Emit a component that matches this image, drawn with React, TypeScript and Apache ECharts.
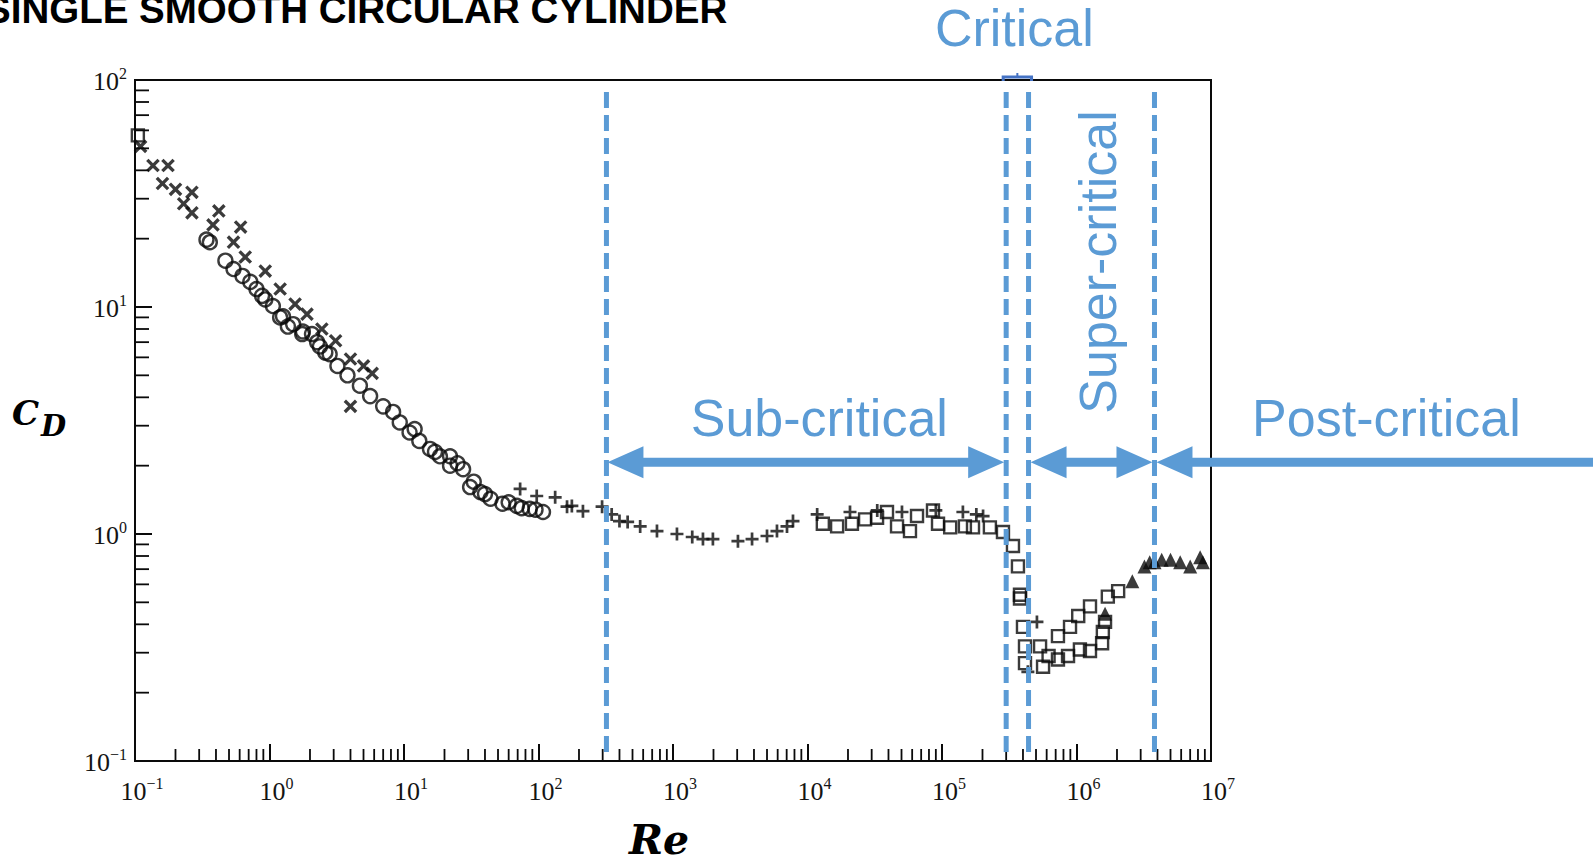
import React, { useEffect, useRef } from 'react';
import * as echarts from 'echarts';

// Drag coefficient of a single smooth circular cylinder versus Reynolds number.
// Each array holds [Re, C_D] pairs for one marker family of the compiled data.
const crossPts: number[][] = [
  [0.11, 51], [0.136, 42], [0.176, 42], [0.16, 35], [0.2, 33], [0.265, 32], [0.23, 28.5],
  [0.265, 26], [0.42, 26.5], [0.38, 23], [0.61, 22.5], [0.54, 19.3], [0.66, 16.6],
  [0.93, 14.4], [1.2, 12], [1.55, 10.3], [1.9, 9.3], [2.45, 8], [3.1, 7.1], [4, 5.9],
  [5, 5.5], [5.8, 5.1], [4, 3.65],
];

const circlePts: number[][] = [
  [0.36, 19.3], [0.34, 19.8], [0.47, 16], [0.54, 14.7], [0.63, 13.7], [0.72, 12.9],
  [0.8, 12], [0.88, 11.2], [0.93, 10.8], [1.06, 10.1], [1.2, 9], [1.26, 9.1], [1.37, 8.2],
  [1.5, 8.4], [1.75, 7.6], [1.77, 7.8], [2.07, 7.6], [2.26, 7], [2.37, 6.7], [2.6, 6.3],
  [2.8, 6.2], [3.2, 5.5], [3.8, 5], [4.7, 4.5], [5.6, 4.05], [7, 3.65], [8.3, 3.45],
  [9.3, 3.1], [11, 2.8], [12, 2.9], [13, 2.57], [15.6, 2.37], [17, 2.3], [18.5, 2.2],
  [22, 2.2], [22, 2.0], [25, 2.05], [27.5, 1.93], [31, 1.61], [33, 1.7], [37, 1.53],
  [40, 1.5], [44, 1.43], [54, 1.36], [60, 1.38], [69, 1.33], [75, 1.3], [86, 1.29],
  [95, 1.28], [108, 1.25],
];

const plusPts: number[][] = [
  [73, 1.58], [97, 1.47], [133, 1.45], [163, 1.32], [177, 1.33], [214, 1.26], [297, 1.32],
  [350, 1.22], [400, 1.14], [460, 1.13], [570, 1.08], [760, 1.03], [1070, 1.0], [1390, 0.97],
  [1670, 0.95], [1980, 0.95], [3040, 0.93], [3870, 0.95], [5000, 0.98], [5930, 1.03],
  [7040, 1.08], [7800, 1.14], [11800, 1.22], [20700, 1.25], [33000, 1.27], [50400, 1.25],
  [90000, 1.27], [143000, 1.25], [180000, 1.22], [202000, 1.2], [435000, 0.247], [508000, 0.41],
];

const squarePts: number[][] = [
  [0.105, 57], [13000, 1.11], [16600, 1.08], [21400, 1.11], [26800, 1.16], [32900, 1.18],
  [39000, 1.25], [46300, 1.08], [57800, 1.03], [65200, 1.2], [85700, 1.27], [93400, 1.11],
  [115000, 1.07], [148000, 1.08], [170000, 1.07], [227000, 1.07], [284000, 1.02],
  [337000, 0.885], [367000, 0.72], [380000, 0.52], [380000, 0.54], [400000, 0.39],
  [414000, 0.32], [414000, 0.27], [536000, 0.32], [564000, 0.26], [620000, 0.29],
  [728000, 0.28], [728000, 0.355], [865000, 0.29], [895000, 0.39], [1030000, 0.435],
  [1060000, 0.31], [1260000, 0.48], [1260000, 0.305], [1550000, 0.33], [1570000, 0.37],
  [1630000, 0.41], [1710000, 0.53], [2040000, 0.56],
];

const trianglePts: number[][] = [
  [1630000, 0.445], [2600000, 0.62], [3200000, 0.72], [3500000, 0.75], [3800000, 0.75],
  [4300000, 0.77], [5000000, 0.77], [5900000, 0.75], [7000000, 0.72], [8300000, 0.79],
  [8700000, 0.75],
];

// Regime boundaries in Re: sub-critical start, critical band, post-critical start
const regimeBoundaries = [320, 3.0e5, 4.4e5, 3.8e6];
const regimeLabels = ['Sub-critical', 'Critical', 'Super-critical', 'Post-critical'];
const arrowCD = 2.07;
const dashTopCD = 88.5;

// Axis ranges and log-decade minor ticks
const xRange = [0.1, 1e7];
const yRange = [0.1, 100];
const minorMultipliers = [2, 3, 4, 5, 6, 7, 8, 9];
const xDecades = [0.1, 1, 10, 100, 1e3, 1e4, 1e5, 1e6];
const yDecades = [0.1, 1, 10];

const BLUE = '#5B9BD5';
const INK = '#0a0a0a';

const PLUS_PATH = 'path://M-1.25,-6H1.25V-1.25H6V1.25H1.25V6H-1.25V1.25H-6V-1.25H-1.25Z';

const xMinorTicks = xDecades.flatMap((d) => minorMultipliers.map((m) => [m * d, yRange[0]]));
const yMinorTicks = yDecades.flatMap((d) => minorMultipliers.map((m) => [xRange[0], m * d]));

const powerLabel = (v: number) => {
  const e = Math.round(Math.log10(v));
  return `{b|10}{s|${e < 0 ? '\u2212' + -e : e}}`;
};

const labelRich = {
  b: { fontFamily: 'Liberation Serif', fontSize: 26, color: '#141414', lineHeight: 32 },
  s: { fontFamily: 'Liberation Serif', fontSize: 16, color: '#141414', lineHeight: 17, verticalAlign: 'top' },
};

const axisCommon = {
  type: 'log',
  logBase: 10,
  axisLine: { show: true, onZero: false, lineStyle: { color: INK, width: 2 } },
  axisTick: { show: true, inside: true, length: 17, lineStyle: { color: INK, width: 2 } },
  splitLine: { show: false },
  minorTick: { show: false },
};

function buildOption() {
  const scatterBase = { type: 'scatter', silent: true, z: 3 };
  const hollow = { color: 'rgba(0,0,0,0)', borderColor: INK, borderWidth: 2.4 };
  return {
    animation: false,
    backgroundColor: '#ffffff',
    grid: {
      left: 135, top: 80, width: 1076, height: 681,
      show: true, borderColor: INK, borderWidth: 2,
      containLabel: false, outerBoundsMode: 'none',
    },
    xAxis: {
      ...axisCommon,
      min: xRange[0], max: xRange[1], splitNumber: 8,
      axisLabel: {
        formatter: powerLabel, rich: labelRich, margin: 14, padding: [0, 0, 0, 14],
        showMinLabel: true, showMaxLabel: true,
      },
    },
    yAxis: {
      ...axisCommon,
      min: yRange[0], max: yRange[1], splitNumber: 3,
      axisLabel: {
        formatter: powerLabel, rich: labelRich, margin: 8, padding: [3, 0, 0, 0],
        showMinLabel: true, showMaxLabel: true,
      },
    },
    series: [
      { ...scatterBase, name: 'cross', data: crossPts, symbol: PLUS_PATH, symbolRotate: 45, symbolSize: 16, itemStyle: { color: INK } },
      { ...scatterBase, name: 'circle', data: circlePts, symbol: 'circle', symbolSize: 14, itemStyle: hollow },
      { ...scatterBase, name: 'plus', data: plusPts, symbol: PLUS_PATH, symbolSize: 13, itemStyle: { color: INK } },
      { ...scatterBase, name: 'square', data: squarePts, symbol: 'rect', symbolSize: 12, itemStyle: hollow },
      { ...scatterBase, name: 'triangle', data: trianglePts, symbol: 'triangle', symbolSize: 14, itemStyle: { color: INK } },
      {
        type: 'custom', name: 'xMinor', data: xMinorTicks, clip: false, silent: true, z: 4,
        renderItem: (_p: any, api: any) => {
          const p = api.coord([api.value(0), api.value(1)]);
          return { type: 'line', shape: { x1: p[0], y1: p[1], x2: p[0], y2: p[1] - 12 }, style: { stroke: INK, lineWidth: 1.8 } };
        },
      },
      {
        type: 'custom', name: 'yMinor', data: yMinorTicks, clip: false, silent: true, z: 4,
        renderItem: (_p: any, api: any) => {
          const p = api.coord([api.value(0), api.value(1)]);
          return { type: 'line', shape: { x1: p[0], y1: p[1], x2: p[0] + 14, y2: p[1] }, style: { stroke: INK, lineWidth: 1.8 } };
        },
      },
      {
        type: 'custom', name: 'boundaries', data: regimeBoundaries.map((re) => [re, dashTopCD]), clip: false, silent: true, z: 6,
        renderItem: (_p: any, api: any) => {
          const top = api.coord([api.value(0), api.value(1)]);
          const bot = api.coord([api.value(0), yRange[0]]);
          return {
            type: 'line',
            shape: { x1: top[0], y1: top[1], x2: bot[0], y2: bot[1] - 3 },
            style: { stroke: BLUE, lineWidth: 5, lineDash: [16, 7] },
          };
        },
      },
    ],
  };
}

function arrowPoints(xL: number, xR: number, y: number, headL: boolean, headR: boolean) {
  const HL = 36, HW = 16, T = 4.5;
  const pts: number[][] = [];
  if (headL) pts.push([xL, y], [xL + HL, y - HW], [xL + HL, y - T]);
  else pts.push([xL, y - T]);
  if (headR) pts.push([xR - HL, y - T], [xR - HL, y - HW], [xR, y], [xR - HL, y + HW], [xR - HL, y + T]);
  else pts.push([xR, y - T], [xR, y + T]);
  if (headL) pts.push([xL + HL, y + T], [xL + HL, y + HW]);
  else pts.push([xL, y + T]);
  return pts;
}

function buildAnnotations(chart: echarts.ECharts) {
  const toPx = (re: number, cd: number) => chart.convertToPixel({ gridIndex: 0 }, [re, cd]) as number[];
  const [b0, b1, b2, b3] = regimeBoundaries.map((re) => toPx(re, arrowCD)[0]);
  const ay = toPx(regimeBoundaries[0], arrowCD)[1];
  const gridTop = toPx(xRange[0], yRange[1])[1];
  const label = (text: string, x: number, y: number, rotation = 0) => ({
    type: 'text', x, y, rotation, silent: true, z: 20,
    style: {
      text, fill: BLUE, fontFamily: 'Liberation Sans', fontSize: 52,
      align: 'center', verticalAlign: 'middle', textAlign: 'center', textVerticalAlign: 'middle',
    },
  });
  const arrow = (pts: number[][]) => ({ type: 'polygon', silent: true, z: 20, shape: { points: pts }, style: { fill: BLUE } });
  const serifBI = (text: string, x: number, y: number, size: number) => ({
    type: 'text', x, y, silent: true, z: 20,
    style: {
      text, fill: '#000', fontFamily: 'DejaVu Serif', fontStyle: 'italic', fontWeight: 'bold', fontSize: size,
      align: 'left', verticalAlign: 'middle', textAlign: 'left', textVerticalAlign: 'middle',
    },
  });
  const mid = (b1 + b2) / 2;
  return [
    {
      type: 'text', x: -15, y: 9, silent: true, z: 20,
      style: {
        text: 'SINGLE SMOOTH CIRCULAR CYLINDER', fill: '#000', fontFamily: 'Liberation Sans', fontWeight: 'bold', fontSize: 38.5,
        align: 'left', verticalAlign: 'middle', textAlign: 'left', textVerticalAlign: 'middle',
      },
    },
    arrow(arrowPoints(b0 + 1, b1 - 2, ay, true, true)),
    arrow(arrowPoints(b2 + 2, b3 - 2, ay, true, true)),
    arrow(arrowPoints(b3 + 2, 1593, ay, true, false)),
    label(regimeLabels[0], (b0 + b1) / 2 + 13, ay - 44),
    label(regimeLabels[1], mid - 3, gridTop - 52),
    label(regimeLabels[2], (b2 + b3) / 2 + 6, 262, Math.PI / 2),
    label(regimeLabels[3], b3 + 232, ay - 44),
    {
      type: 'polyline', silent: true, z: 21,
      shape: { points: [[b1 - 3, gridTop + 1], [b1 - 3, gridTop - 3], [b2 + 3, gridTop - 3], [b2 + 3, gridTop + 1]] },
      style: { stroke: '#4472C4', lineWidth: 3, fill: 'none' },
    },
    {
      type: 'line', silent: true, z: 21,
      shape: { x1: mid, y1: gridTop - 3, x2: mid, y2: gridTop - 7 },
      style: { stroke: '#4472C4', lineWidth: 2 },
    },
    serifBI('C', 12, 413, 34),
    serifBI('D', 41, 426, 29),
    serifBI('Re', 629, 840, 41),
  ];
}

export default function App() {
  const ref = useRef<HTMLDivElement>(null);
  useEffect(() => {
    if (!ref.current) return;
    const chart = echarts.init(ref.current, null, { renderer: 'svg' });
    chart.setOption(buildOption() as any);
    chart.setOption({ graphic: buildAnnotations(chart) } as any);
    return () => chart.dispose();
  }, []);
  return (
    <div
      ref={ref}
      style={{ position: 'fixed', left: 0, top: 0, width: 1595, height: 864, background: '#fff' }}
    />
  );
}
